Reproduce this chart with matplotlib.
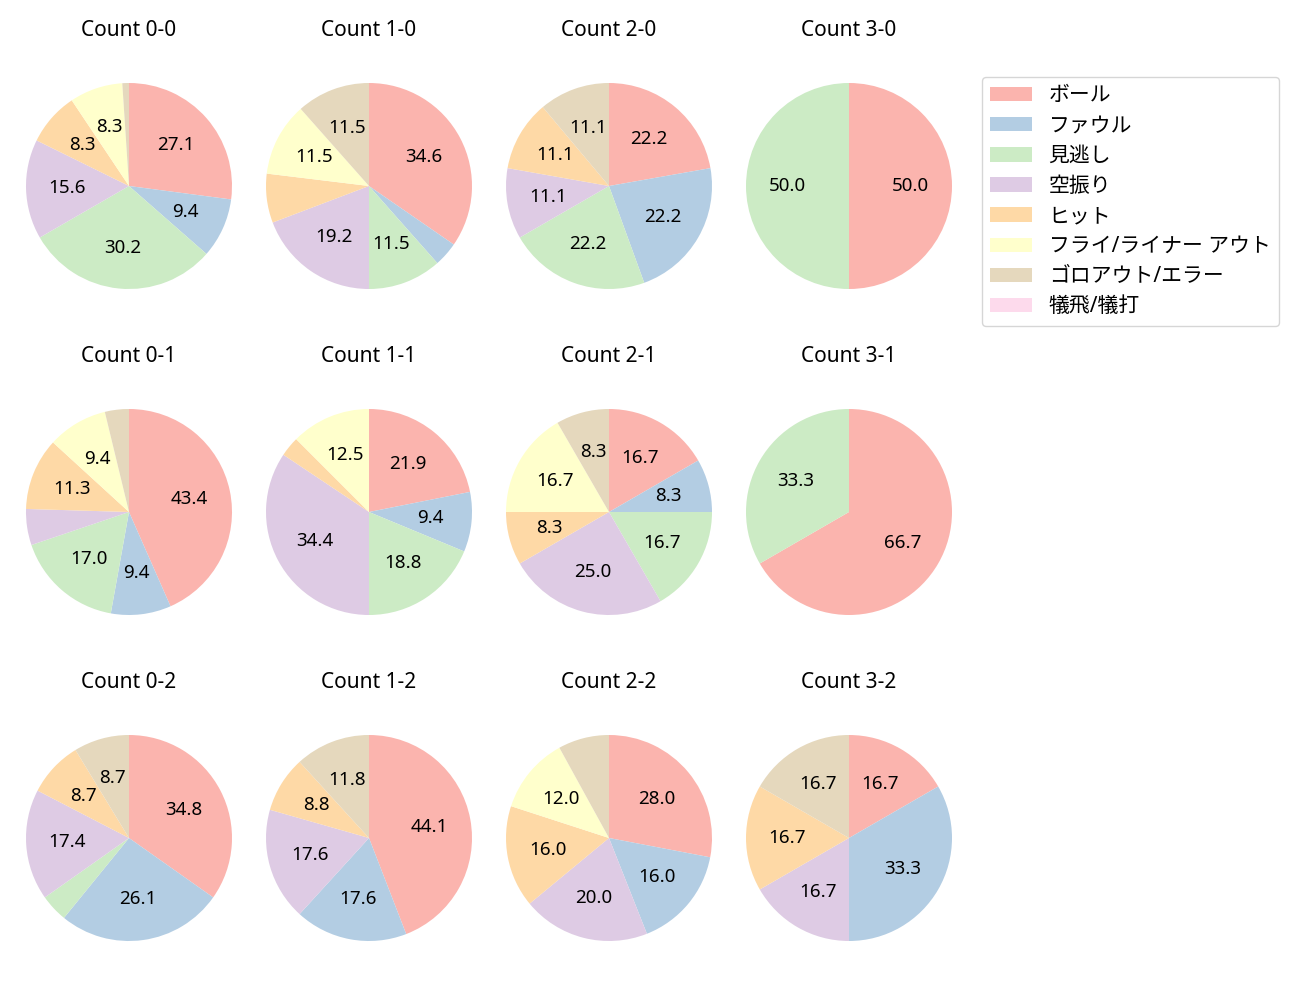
import matplotlib
matplotlib.use("Agg")
import matplotlib.pyplot as plt

plt.rcParams['font.family'] = ['Noto Sans', 'Noto Sans CJK JP', 'DejaVu Sans']

categories = ['ボール', 'ファウル', '見逃し', '空振り', 'ヒット',
              'フライ/ライナー アウト', 'ゴロアウト/エラー', '犠飛/犠打']
colors = ['#fbb4ae', '#b3cde3', '#ccebc5', '#decbe4', '#fed9a6',
          '#ffffcc', '#e5d8bd', '#fddaec']

titles = ['Count 0-0', 'Count 1-0', 'Count 2-0', 'Count 3-0',
          'Count 0-1', 'Count 1-1', 'Count 2-1', 'Count 3-1',
          'Count 0-2', 'Count 1-2', 'Count 2-2', 'Count 3-2']

# pitch counts per category (same order as categories)
c00 = [26, 9, 29, 15, 8, 8, 1, 0]
c10 = [9, 1, 3, 5, 2, 3, 3, 0]
c20 = [2, 2, 2, 1, 1, 0, 1, 0]
c30 = [1, 0, 1, 0, 0, 0, 0, 0]
c01 = [23, 5, 9, 3, 6, 5, 2, 0]
c11 = [7, 3, 6, 11, 1, 4, 0, 0]
c21 = [2, 1, 2, 3, 1, 2, 1, 0]
c31 = [2, 0, 1, 0, 0, 0, 0, 0]
c02 = [8, 6, 1, 4, 2, 0, 2, 0]
c12 = [15, 6, 0, 6, 3, 0, 4, 0]
c22 = [7, 4, 0, 5, 4, 3, 2, 0]
c32 = [1, 2, 0, 1, 1, 0, 1, 0]

data = [c00, c10, c20, c30, c01, c11, c21, c31, c02, c12, c22, c32]

fig = plt.figure(figsize=(13, 10), dpi=100)
W, H = 1300, 1000
cxs = [129, 369, 609, 849]
cys = [186, 512, 838]
s = 257.5

def fmt(p):
    return f'{p:.1f}' if p > 8.05 else ''

wedges_ref = None
for i, (vals, title) in enumerate(zip(data, titles)):
    r, c = divmod(i, 4)
    cx, cy = cxs[c], cys[r]
    ax = fig.add_axes([(cx - s / 2) / W, 1 - (cy + s / 2) / H, s / W, s / H])
    wedges, texts, autotexts = ax.pie(vals, colors=colors, startangle=90,
                                      counterclock=False, autopct=fmt,
                                      textprops={'fontsize': 13.5})
    ax.set_title(title, fontsize=15, pad=15)
    if i == 0:
        wedges_ref = wedges

fig.legend(wedges_ref, categories, loc='upper left',
           bbox_to_anchor=(982 / W, 1 - 77 / H), borderaxespad=0,
           fontsize=15, labelspacing=0.44)

fig.savefig('out.png', dpi=100)
